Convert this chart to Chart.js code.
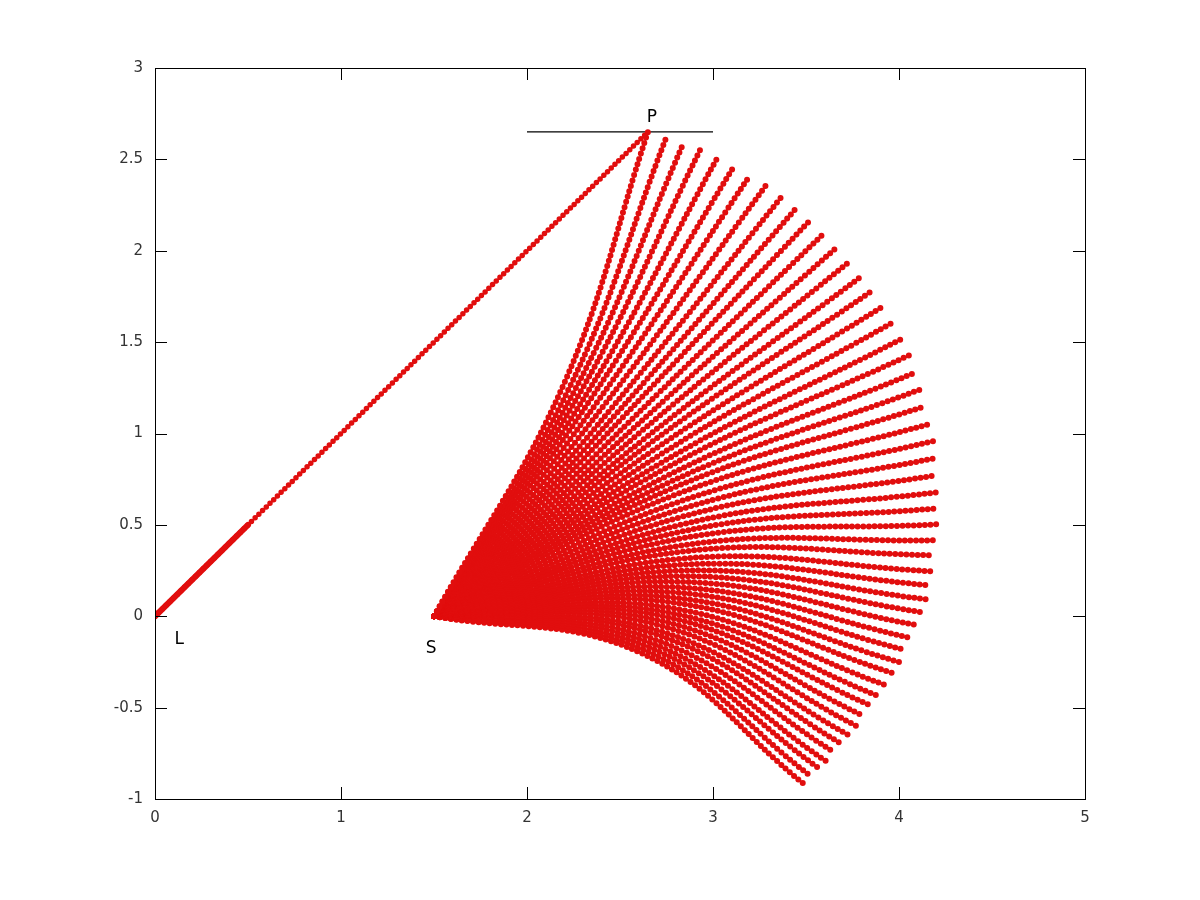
<!DOCTYPE html>
<html>
<head>
<meta charset="utf-8">
<title>Rays from S</title>
<script src="https://cdn.jsdelivr.net/npm/chart.js@4.4.1/dist/chart.umd.min.js"></script>
<style>
    html, body { margin: 0; padding: 0; background: #fff; }
    #wrap { width: 1200px; height: 900px; }
</style>
</head>
<body>
<div id="wrap"><canvas id="plot" width="1200" height="900"></canvas></div>
<script>
/**
 * Fan of rays from S, plus the line L -> P
 */

// Axis ticks
const xTicks = [0, 1, 2, 3, 4, 5];
const yTicks = [-1, -0.5, 0, 0.5, 1, 1.5, 2, 2.5, 3];

// Common start point of the rays (S)
const rayStartX = 1.5;
const rayStartY = 0;

// Ray middle points
const rayMidX = [2.196, 2.230, 2.260, 2.290, 2.320, 2.351, 2.384, 2.418, 2.452, 2.484,
    2.513, 2.544, 2.572, 2.600, 2.626, 2.648, 2.670, 2.693, 2.711, 2.730,
    2.747, 2.759, 2.769, 2.780, 2.794, 2.802, 2.810, 2.816, 2.820, 2.821,
    2.823, 2.822, 2.822, 2.819, 2.816, 2.810, 2.802, 2.795, 2.784, 2.775,
    2.762, 2.751, 2.739, 2.727, 2.713, 2.702, 2.687, 2.676, 2.660, 2.647,
    2.634, 2.621, 2.607];
const rayMidY = [1.266, 1.255, 1.243, 1.232, 1.216, 1.201, 1.181, 1.159, 1.135, 1.112,
    1.086, 1.058, 1.028, 0.999, 0.967, 0.936, 0.902, 0.869, 0.833, 0.801,
    0.765, 0.730, 0.695, 0.658, 0.618, 0.578, 0.538, 0.498, 0.461, 0.424,
    0.386, 0.352, 0.314, 0.281, 0.249, 0.219, 0.189, 0.159, 0.131, 0.103,
    0.078, 0.049, 0.024, 0.001, -0.023, -0.047, -0.073, -0.094, -0.118, -0.140,
    -0.161, -0.181, -0.198];

// Ray end points (outer arc)
const rayEndX = [2.65, 2.747, 2.839, 2.930, 3.022, 3.113, 3.199, 3.285, 3.371, 3.452,
    3.527, 3.602, 3.672, 3.742, 3.806, 3.860, 3.914, 3.968, 4.011, 4.054,
    4.091, 4.118, 4.140, 4.161, 4.183, 4.194, 4.204, 4.210, 4.210, 4.204,
    4.199, 4.188, 4.177, 4.161, 4.145, 4.124, 4.097, 4.070, 4.038, 4.005,
    3.968, 3.930, 3.892, 3.855, 3.812, 3.774, 3.731, 3.694, 3.651, 3.608,
    3.570, 3.527, 3.484];
const rayEndY = [2.65, 2.616, 2.583, 2.550, 2.506, 2.462, 2.413, 2.358, 2.298, 2.238,
    2.172, 2.101, 2.025, 1.948, 1.866, 1.784, 1.696, 1.609, 1.516, 1.428,
    1.335, 1.242, 1.149, 1.051, 0.958, 0.865, 0.772, 0.679, 0.591, 0.503,
    0.416, 0.334, 0.246, 0.170, 0.093, 0.022, -0.049, -0.120, -0.186, -0.252,
    -0.312, -0.378, -0.438, -0.492, -0.547, -0.602, -0.651, -0.700, -0.744, -0.793,
    -0.832, -0.876, -0.914];

// Line L -> P (dense part near L, then dotted)
const lpX = [0, 2.65];
const lpY = [0, 2.65];
const lpDenseX = [0, 0.5];
const lpDenseY = [0, 0.5];

// Horizontal segment through P
const pLineX = [2, 3];
const pLineY = [2.65, 2.65];

// Point labels
const labelText = ['P', 'L', 'S'];
const labelX = [2.672, 0.13, 1.484];
const labelY = [2.73, -0.13, -0.175];

const RED = 'rgb(225, 14, 14)';

/**
 * Build the datasets
 */
function buildDatasets() {
    const sets = [];

    rayEndX.forEach((ex, i) => {
        sets.push({
            data: [
                { x: rayStartX, y: rayStartY },
                { x: rayMidX[i], y: rayMidY[i] },
                { x: ex, y: rayEndY[i] }
            ],
            borderColor: RED,
            borderWidth: 6,
            borderDash: [0, 5.6],
            borderCapStyle: 'round',
            tension: 0.4
        });
    });

    sets.push({
        data: lpX.map((x, i) => ({ x, y: lpY[i] })),
        borderColor: RED,
        borderWidth: 5.5,
        borderDash: [0, 5.2],
        borderCapStyle: 'round'
    });

    sets.push({
        data: lpDenseX.map((x, i) => ({ x, y: lpDenseY[i] })),
        borderColor: RED,
        borderWidth: 6,
        borderCapStyle: 'round'
    });

    sets.push({
        data: pLineX.map((x, i) => ({ x, y: pLineY[i] })),
        borderColor: '#000',
        borderWidth: 1.3
    });

    return sets.map(s => Object.assign({ showLine: true, pointRadius: 0, fill: false }, s));
}

// Box border with inward ticks on all four sides (gnuplot style)
const frameTicks = {
    id: 'frameTicks',
    afterDatasetsDraw(chart) {
        const { ctx, chartArea: a, scales: { x, y } } = chart;
        const len = 12;
        ctx.save();
        ctx.strokeStyle = '#000';
        ctx.lineWidth = 1;
        ctx.beginPath();
        xTicks.forEach(v => {
            const px = Math.round(x.getPixelForValue(v)) + 0.5;
            ctx.moveTo(px, a.bottom);
            ctx.lineTo(px, a.bottom - len);
            ctx.moveTo(px, a.top);
            ctx.lineTo(px, a.top + len);
        });
        yTicks.forEach(v => {
            const py = Math.round(y.getPixelForValue(v)) + 0.5;
            ctx.moveTo(a.left, py);
            ctx.lineTo(a.left + len, py);
            ctx.moveTo(a.right, py);
            ctx.lineTo(a.right - len, py);
        });
        ctx.stroke();
        ctx.strokeRect(Math.round(a.left) + 0.5, Math.round(a.top) + 0.5,
            Math.round(a.right - a.left), Math.round(a.bottom - a.top));

        // point labels
        ctx.fillStyle = '#000';
        ctx.font = '17px "DejaVu Sans"';
        ctx.textAlign = 'center';
        ctx.textBaseline = 'middle';
        labelText.forEach((t, i) => {
            ctx.fillText(t, x.getPixelForValue(labelX[i]), y.getPixelForValue(labelY[i]));
        });
        ctx.restore();
    }
};

document.addEventListener('DOMContentLoaded', () => {
    const ctx = document.getElementById('plot').getContext('2d');
    const tickFont = { family: 'DejaVu Sans', size: 15 };

    new Chart(ctx, {
        type: 'scatter',
        data: { datasets: buildDatasets() },
        options: {
            responsive: false,
            animation: false,
            layout: { padding: { top: 68, right: 115, left: 0, bottom: 0 } },
            plugins: {
                legend: { display: false },
                tooltip: { enabled: false }
            },
            scales: {
                x: {
                    type: 'linear',
                    min: 0,
                    max: 5,
                    afterFit: scale => { scale.height = 101; },
                    afterBuildTicks: scale => { scale.ticks = xTicks.map(v => ({ value: v })); },
                    grid: { display: false, drawTicks: false },
                    border: { display: false },
                    ticks: { padding: 10, color: '#333', font: tickFont, callback: v => String(v) }
                },
                y: {
                    type: 'linear',
                    min: -1,
                    max: 3,
                    afterFit: scale => { scale.width = 155; },
                    afterBuildTicks: scale => { scale.ticks = yTicks.map(v => ({ value: v })); },
                    grid: { display: false, drawTicks: false },
                    border: { display: false },
                    ticks: { padding: 12, color: '#333', font: tickFont, callback: v => String(v) }
                }
            }
        },
        plugins: [frameTicks]
    });
});
</script>
</body>
</html>
